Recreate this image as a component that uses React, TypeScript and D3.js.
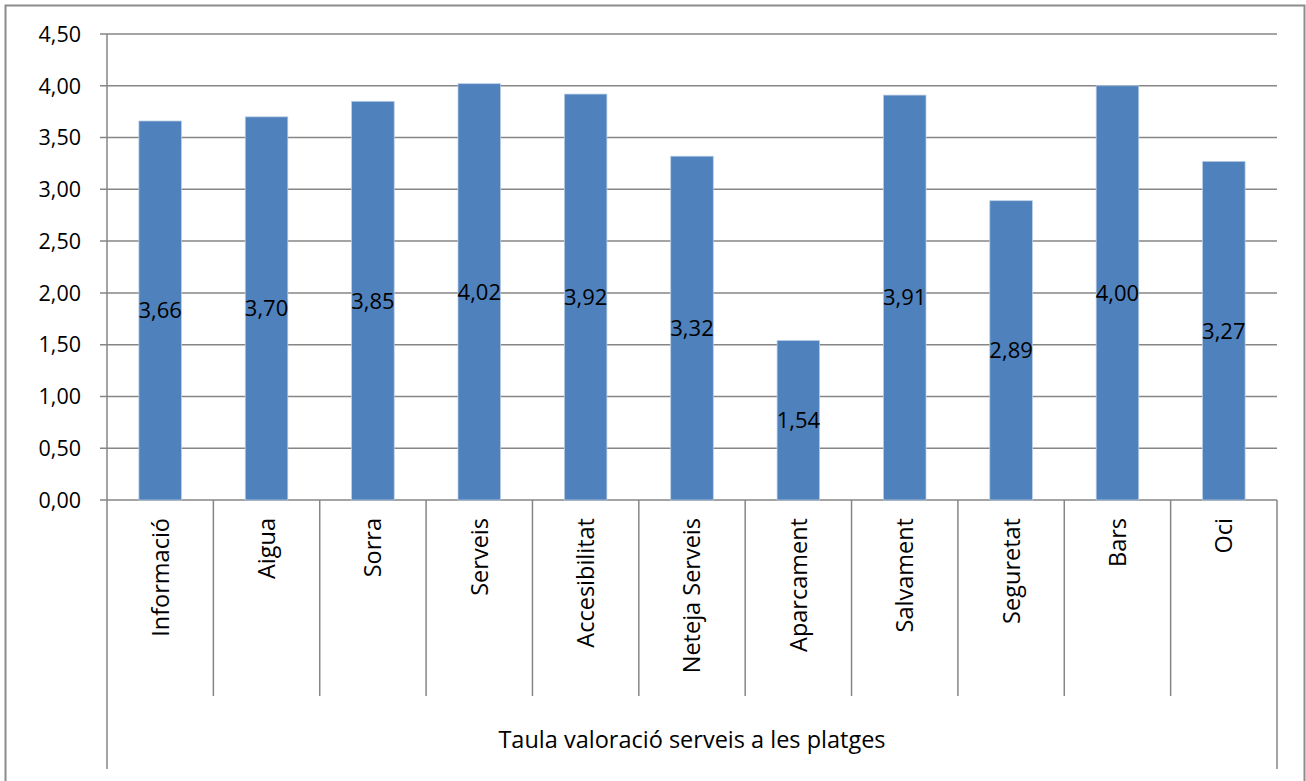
import React from 'react';
import * as d3 from 'd3';

const width = 1306;
const height = 781;
const margin = {top: 34, right: 29, bottom: 281, left: 107};
const barColor = '#4f81bd';
const gridColor = '#868686';
const font = '"Open Sans", "Noto Sans", sans-serif';

const categories = ['Informació', 'Aigua', 'Sorra', 'Serveis', 'Accesibilitat', 'Neteja Serveis',
    'Aparcament', 'Salvament', 'Seguretat', 'Bars', 'Oci'];
const values = [3.66, 3.70, 3.85, 4.02, 3.92, 3.32, 1.54, 3.91, 2.89, 4.00, 3.27];
const yTicks = [0, 0.5, 1, 1.5, 2, 2.5, 3, 3.5, 4, 4.5];
const groupLabel = 'Taula valoració serveis a les platges';

const fmt = (v: number) => v.toFixed(2).replace('.', ',');

export default function App() {
    const x = d3.scaleBand<string>()
        .domain(categories)
        .range([margin.left, width - margin.right])
        .paddingInner(0.6)
        .paddingOuter(0.3);
    const step = x.step();
    const y = d3.scaleLinear().domain([0, 4.5]).range([height - margin.bottom, margin.top]);
    const y0 = y(0);
    const left = margin.left;
    const right = width - margin.right;
    // edges between categories
    const edges = categories.map((c, i) => left + i * step).concat([right]);

    return (
        <svg width={width} height={height} style={{position: 'absolute', left: 0, top: 0, background: '#fff'}}>
            <rect x={5.5} y={5.5} width={1299} height={800} fill='#fff' stroke='#8c8c8c' strokeWidth={2}/>
            {/* gridlines and ticks */}
            {yTicks.map(t => (
                <g key={t}>
                    <line x1={left - 7} x2={right} y1={y(t)} y2={y(t)} stroke={gridColor} strokeWidth={1.5}/>
                    <text x={81} y={y(t)} dy='0.36em' textAnchor='end' fontFamily={font} fontSize={21.5}
                          fill='#000'>{fmt(t)}</text>
                </g>
            ))}
            <line x1={left} x2={left} y1={margin.top} y2={y0} stroke={gridColor} strokeWidth={1.5}/>
            {/* bars */}
            {categories.map((c, i) => (
                <rect key={c} x={x(c)} y={y(values[i])} width={x.bandwidth()} height={y0 - y(values[i])}
                      fill={barColor} stroke='#b9cde5' strokeWidth={0.75}/>
            ))}
            {/* value labels */}
            {categories.map((c, i) => (
                <text key={c} x={(x(c) ?? 0) + x.bandwidth() / 2} y={(y(values[i]) + y0) / 2} dy='0.36em'
                      textAnchor='middle' fontFamily={font} fontSize={22} fill='#000'>{fmt(values[i])}</text>
            ))}
            {/* category separators */}
            {edges.map((e, i) => (
                <line key={i} x1={e} x2={e} y1={y0} y2={i === 0 || i === edges.length - 1 ? 769 : 696}
                      stroke={gridColor} strokeWidth={1.5}/>
            ))}
            {/* category labels */}
            {categories.map(c => {
                const cx = (x(c) ?? 0) + x.bandwidth() / 2;
                return (
                    <text key={c} transform={`translate(${cx},${y0 + 18}) rotate(-90)`} dy='0.36em'
                          textAnchor='end' fontFamily={font} fontSize={23.5} fill='#000'>{c}</text>
                );
            })}
            <text x={(left + right) / 2} y={740} dy='0.36em' textAnchor='middle' fontFamily={font}
                  fontSize={23.5} fill='#000'>{groupLabel}</text>
        </svg>
    );
}
